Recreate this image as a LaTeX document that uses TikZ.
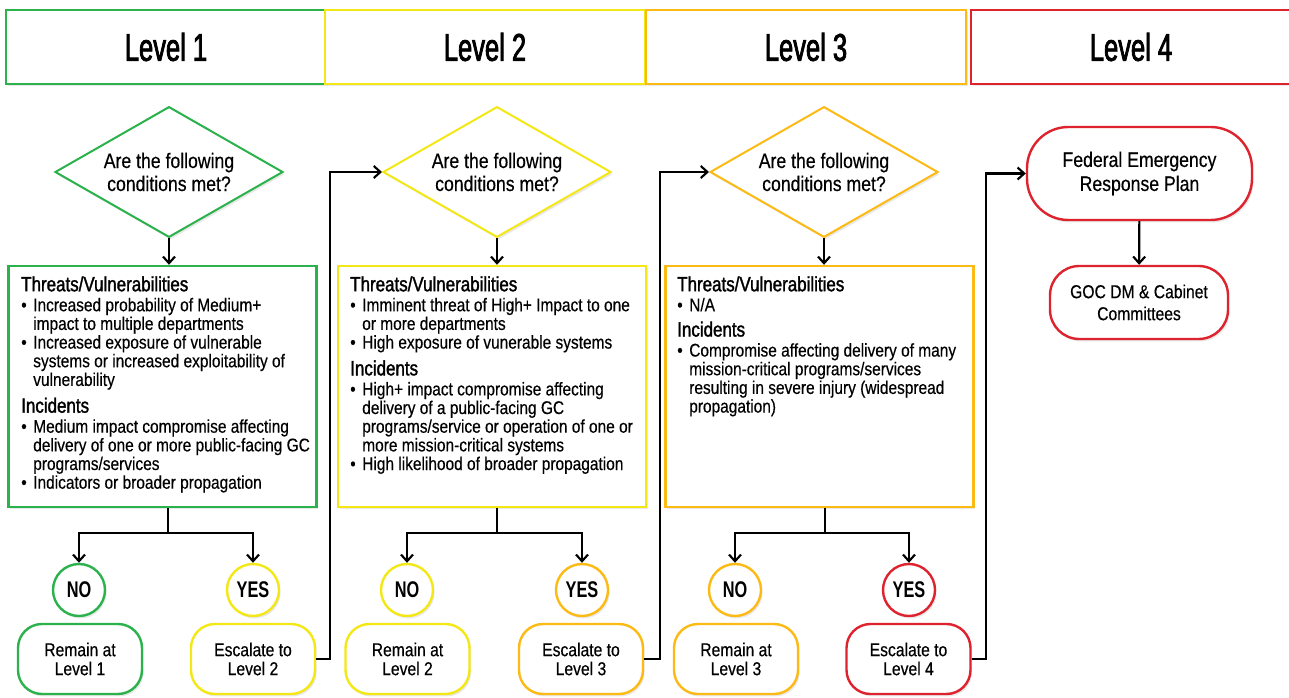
\documentclass[tikz,border=0pt]{standalone}
\usepackage{fontspec}
\setmainfont{Liberation Sans}[FakeStretch=0.84,FakeBold=0.35]
\newfontfamily\lvlfont{Liberation Sans}[FakeStretch=0.66,FakeBold=2]
\newfontfamily\hdfont{Liberation Sans}[FakeStretch=0.82,FakeBold=1.5]
\newfontfamily\decfont{Liberation Sans Bold}[FakeStretch=0.72]
\usetikzlibrary{shapes.geometric,arrows.meta,shadows}
\definecolor{lgreen}{RGB}{43,178,76}
\definecolor{lyellow}{RGB}{243,232,22}
\definecolor{lorange}{RGB}{252,186,20}
\definecolor{lred}{RGB}{221,35,45}
\newcommand{\hd}[1]{{\hdfont\fontsize{15.5}{16}\selectfont #1}}
\newcommand{\bitem}{\makebox[9pt][l]{\textbullet}}
\newcommand{\bcont}{\hspace*{9pt}}
\tikzset{
  shdw/.style={drop shadow={opacity=0.18,shadow xshift=1.2pt,shadow yshift=-1.8pt}},
  lvl/.style={rectangle,draw,line width=2.2pt,fill=white,shdw,minimum width=240pt,minimum height=55.5pt,
    font=\lvlfont\fontsize{29}{30}\selectfont},
  ask/.style={diamond,aspect=1.74,draw,line width=1.5pt,fill=white,shdw,minimum width=171pt,minimum height=98pt,
    inner sep=0pt,align=center,font=\fontsize{15.75}{17.25}\selectfont},
  crit/.style={rectangle,draw,line width=1.8pt,fill=white,shdw,minimum width=231pt,minimum height=180.75pt},
  crittext/.style={anchor=north west,align=left,inner sep=0pt,font=\fontsize{13.8}{14}\selectfont},
  dec/.style={circle,draw,line width=1.8pt,fill=white,shdw,minimum size=39pt,inner sep=0pt,
    font=\decfont\fontsize{17}{17}\selectfont},
  outc/.style={rectangle,rounded corners=18pt,draw,line width=1.8pt,fill=white,shdw,
    minimum width=93pt,minimum height=52.5pt,align=center,font=\fontsize{14}{14.25}\selectfont},
  plan/.style={rectangle,draw=lred,line width=1.8pt,fill=white,shdw,align=center},
  flow/.style={->,line width=1.6pt}
}
\begin{document}
\begin{tikzpicture}[x=0.75pt,y=-0.75pt,>={Straight Barb[length=5pt,width=9pt]}]
\useasboundingbox (0,0) rectangle (1289,698);

\node[lvl,draw=lgreen] (h1) at (166,47) {Level 1};
\node[lvl,draw=lyellow] (h2) at (485,47) {Level 2};
\node[lvl,draw=lorange] (h3) at (806,47) {Level 3};
\node[lvl,draw=lred] (h4) at (1131,47) {Level 4};

\node[ask,draw=lgreen] (d1) at (169,172) {Are the following\\conditions met?};
\node[ask,draw=lyellow] (d2) at (497,172) {Are the following\\conditions met?};
\node[ask,draw=lorange] (d3) at (824,172) {Are the following\\conditions met?};

\node[crit,draw=lgreen] (c1) at (162.5,386.5) {};
\node[crit,draw=lyellow] (c2) at (492,386.5) {};
\node[crit,draw=lorange] (c3) at (819.5,386.5) {};

\node[crittext] (t1) at (21,276) {\hd{Threats/Vulnerabilities}\\[1pt]
\bitem Increased probability of Medium+\\
\bcont impact to multiple departments\\
\bitem Increased exposure of vulnerable\\
\bcont systems or increased exploitability of\\
\bcont vulnerability\\[5pt]
\hd{Incidents}\\[1pt]
\bitem Medium impact compromise affecting\\
\bcont delivery of one or more public-facing GC\\
\bcont programs/services\\
\bitem Indicators or broader propagation};
\node[crittext] (t2) at (350,276) {\hd{Threats/Vulnerabilities}\\[1pt]
\bitem Imminent threat of High+ Impact to one\\
\bcont or more departments\\
\bitem High exposure of vunerable systems\\[5pt]
\hd{Incidents}\\[1pt]
\bitem High+ impact compromise affecting\\
\bcont delivery of a public-facing GC\\
\bcont programs/service or operation of one or\\
\bcont more mission-critical systems\\
\bitem High likelihood of broader propagation};
\node[crittext] (t3) at (677,276) {\hd{Threats/Vulnerabilities}\\[1pt]
\bitem N/A\\[5pt]
\hd{Incidents}\\[1pt]
\bitem Compromise affecting delivery of many\\
\bcont mission-critical programs/services\\
\bcont resulting in severe injury (widespread\\
\bcont propagation)};

\node[dec,draw=lgreen] (n1) at (79,590) {NO};
\node[dec,draw=lyellow] (y1) at (253,590) {YES};
\node[dec,draw=lyellow] (n2) at (407,590) {NO};
\node[dec,draw=lorange] (y2) at (582,590) {YES};
\node[dec,draw=lorange] (n3) at (735,590) {NO};
\node[dec,draw=lred] (y3) at (909,590) {YES};

\node[outc,draw=lgreen] (r1) at (80,659) {Remain at\\Level 1};
\node[outc,draw=lyellow] (e1) at (253,659) {Escalate to\\Level 2};
\node[outc,draw=lyellow] (r2) at (407.5,659) {Remain at\\Level 2};
\node[outc,draw=lorange] (e2) at (581,659) {Escalate to\\Level 3};
\node[outc,draw=lorange] (r3) at (736,659) {Remain at\\Level 3};
\node[outc,draw=lred] (e3) at (908.5,659) {Escalate to\\Level 4};

\node[plan,rounded corners=31pt,minimum width=168.75pt,minimum height=69.75pt,font=\fontsize{15.75}{18}\selectfont]
  (fed) at (1139.5,173.5) {Federal Emergency\\Response Plan};
\node[plan,rounded corners=22pt,minimum width=133.5pt,minimum height=54.75pt,font=\fontsize{14}{16.5}\selectfont]
  (goc) at (1139,302.5) {GOC DM \& Cabinet\\Committees};

\coordinate (s1) at (168,533);
\coordinate (s2) at (497,533);
\coordinate (s3) at (825,533);

\draw[flow] (d1.south) -- (d1.south |- c1.north);
\draw[flow] (d2.south) -- (d2.south |- c2.north);
\draw[flow] (d3.south) -- (d3.south |- c3.north);
\draw[line width=1.6pt] (s1 |- c1.south) -- (s1);
\draw[line width=1.6pt] (s2 |- c2.south) -- (s2);
\draw[line width=1.6pt] (s3 |- c3.south) -- (s3);
\draw[flow] (s1) -| (n1.north);
\draw[flow] (s1) -| (y1.north);
\draw[flow] (s2) -| (n2.north);
\draw[flow] (s2) -| (y2.north);
\draw[flow] (s3) -| (n3.north);
\draw[flow] (s3) -| (y3.north);
\draw[flow] (e1.east) -- ++(14,0) |- (d2.west);
\draw[flow] (e2.east) -- ++(16,0) |- (d3.west);
\draw[flow] (e3.east) -- ++(14,0) |- (fed.west);
\draw[flow] (fed) -- (goc);
\end{tikzpicture}
\end{document}
